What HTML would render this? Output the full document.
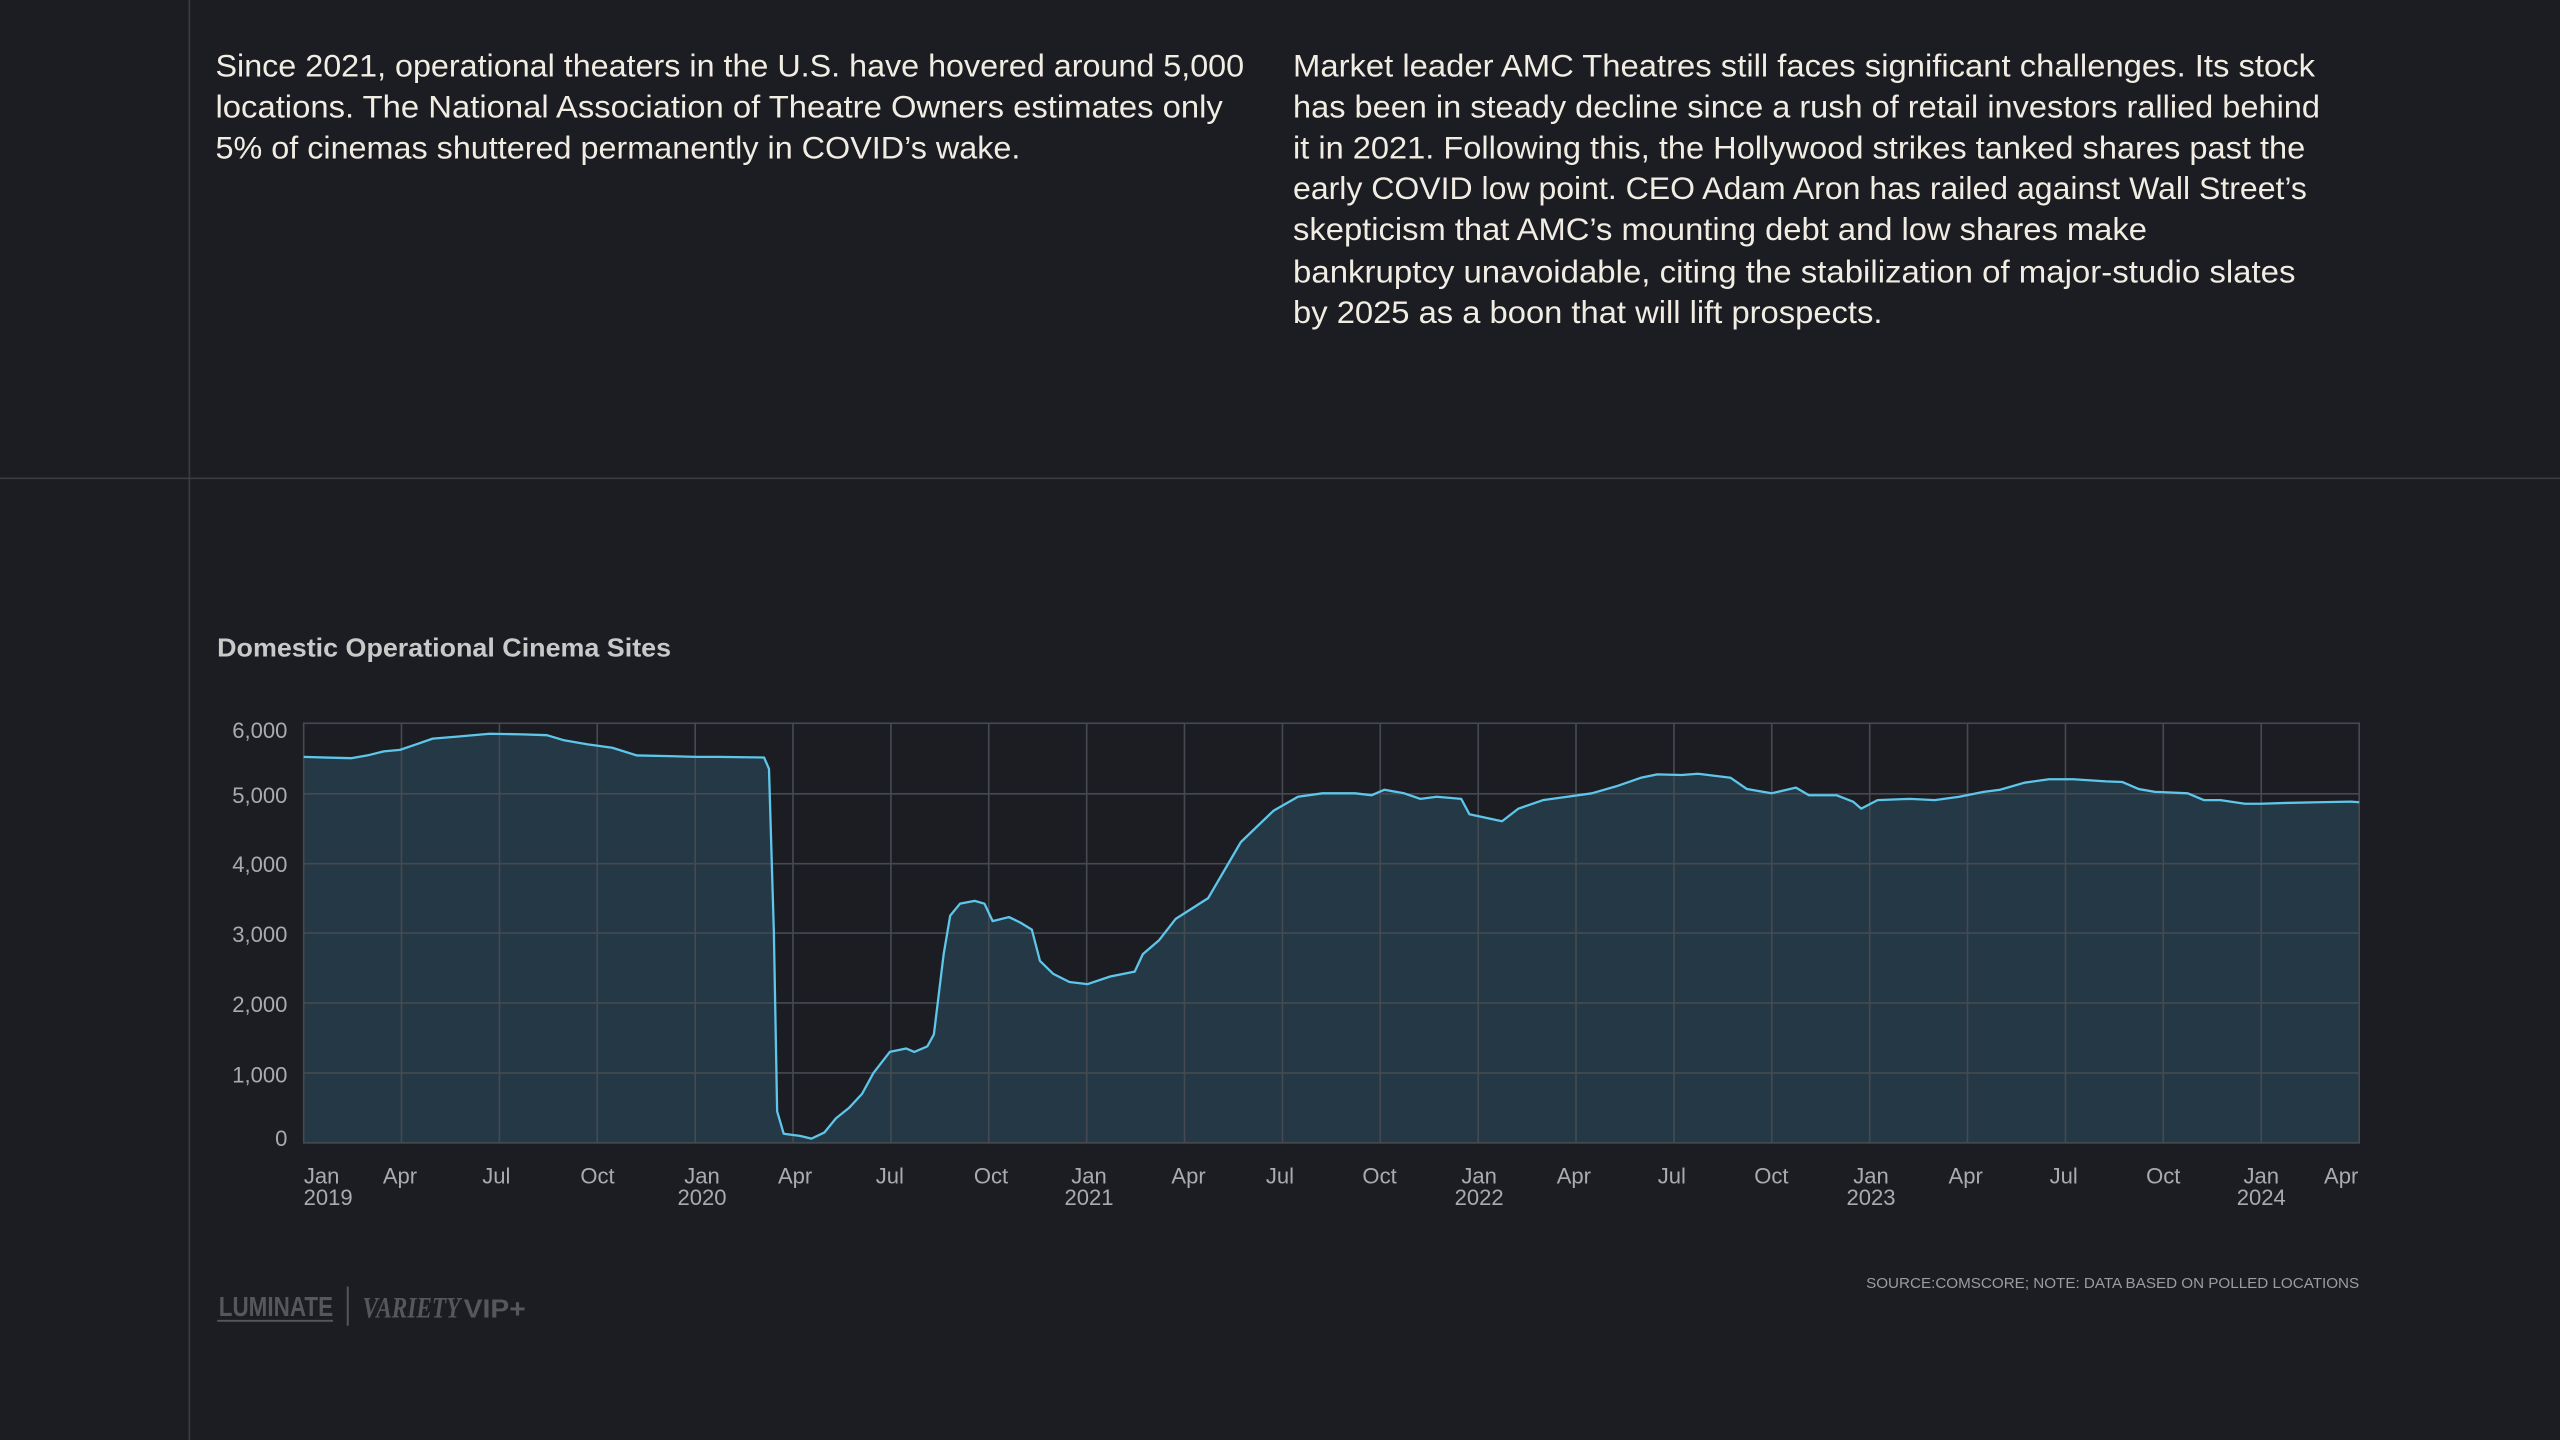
<!DOCTYPE html>
<html><head><meta charset="utf-8"><style>
html,body{margin:0;padding:0;background:#1c1d22;}
svg{display:block}
</style></head><body>
<svg width="2560" height="1440" viewBox="0 0 1568 882" xmlns="http://www.w3.org/2000/svg">
<rect width="1568" height="882" fill="#1c1d22"/>
<line x1="116" y1="0" x2="116" y2="882" stroke="#3a3c42" stroke-width="1"/>
<line x1="0" y1="293" x2="1568" y2="293" stroke="#3a3c42" stroke-width="1"/>
<g font-family="Liberation Sans, sans-serif" font-size="19.5" fill="#f1ede3" lengthAdjust="spacingAndGlyphs">
<text x="132" y="47" textLength="630" lengthAdjust="spacingAndGlyphs">Since 2021, operational theaters in the U.S. have hovered around 5,000</text>
<text x="132" y="72" textLength="617" lengthAdjust="spacingAndGlyphs">locations. The National Association of Theatre Owners estimates only</text>
<text x="132" y="97" textLength="493" lengthAdjust="spacingAndGlyphs">5% of cinemas shuttered permanently in COVID’s wake.</text>
<text x="792" y="47" textLength="626" lengthAdjust="spacingAndGlyphs">Market leader AMC Theatres still faces significant challenges. Its stock</text>
<text x="792" y="72" textLength="629" lengthAdjust="spacingAndGlyphs">has been in steady decline since a rush of retail investors rallied behind</text>
<text x="792" y="97" textLength="620" lengthAdjust="spacingAndGlyphs">it in 2021. Following this, the Hollywood strikes tanked shares past the</text>
<text x="792" y="122" textLength="621" lengthAdjust="spacingAndGlyphs">early COVID low point. CEO Adam Aron has railed against Wall Street’s</text>
<text x="792" y="147" textLength="523" lengthAdjust="spacingAndGlyphs">skepticism that AMC’s mounting debt and low shares make</text>
<text x="792" y="173" textLength="614" lengthAdjust="spacingAndGlyphs">bankruptcy unavoidable, citing the stabilization of major-studio slates</text>
<text x="792" y="198" textLength="361" lengthAdjust="spacingAndGlyphs">by 2025 as a boon that will lift prospects.</text>
</g>
<text x="133" y="402" font-family="Liberation Sans, sans-serif" font-weight="bold" font-size="16" fill="#c9c9c9" textLength="278" lengthAdjust="spacingAndGlyphs">Domestic Operational Cinema Sites</text>

<!-- area -->
<polygon fill="#243845" points="186,700 186,463.6 200,464 215,464.4 225,462.7 235,460.2 245,459.3 255,455.9 265,452.4 280,451.2 300,449.4 320,449.8 335,450.3 345,453.3 360,455.9 375,458 390,462.7 410,463.1 426,463.6 440,463.6 468,464 471,470.9 474,571.5 476,680.7 480,694.4 490,695.7 497,697.4 505,693.6 512,685 520,678.6 528,670 535,657.2 545,644.3 555,642.2 560,644.3 568,640.9 572,633.6 578,584.4 582,560.8 588,553.5 597,551.8 603,553.5 608,564.2 618,561.7 625,565.1 632,569.4 637,588.6 645,596.4 655,601.5 666,602.8 680,598.1 695,595.1 700,584.4 710,575.8 720,562.9 740,550.1 760,515.8 780,496.6 795,488 810,485.9 830,485.9 840,487.1 848,483.7 860,485.9 870,489.3 880,488 895,489.3 900,498.7 920,503 930,495.3 945,490.1 960,488 975,485.9 990,481.6 1005,476.4 1015,474.3 1030,474.7 1040,473.9 1060,476.4 1070,483.3 1085,485.9 1100,482.4 1108,487.1 1125,487.1 1135,491 1140,495.3 1150,490.1 1170,489.3 1185,490.1 1200,488 1215,485 1225,483.7 1240,479.4 1255,477.3 1270,477.3 1290,478.6 1300,479 1310,483.3 1320,485 1340,485.9 1350,490.1 1360,490.1 1375,492.3 1385,492.3 1400,491.8 1420,491.4 1440,491 1445,491.4 1445,700"/>

<!-- grid -->
<g stroke="#454a51" stroke-width="1" fill="none">
<rect x="186" y="443" width="1259" height="257"/>
<line x1="186" y1="486.2" x2="1445" y2="486.2"/>
<line x1="186" y1="529" x2="1445" y2="529"/>
<line x1="186" y1="571.5" x2="1445" y2="571.5"/>
<line x1="186" y1="614.3" x2="1445" y2="614.3"/>
<line x1="186" y1="657.2" x2="1445" y2="657.2"/>
<line x1="245.9" y1="443" x2="245.9" y2="700"/>
<line x1="305.9" y1="443" x2="305.9" y2="700"/>
<line x1="365.8" y1="443" x2="365.8" y2="700"/>
<line x1="425.8" y1="443" x2="425.8" y2="700"/>
<line x1="485.7" y1="443" x2="485.7" y2="700"/>
<line x1="545.7" y1="443" x2="545.7" y2="700"/>
<line x1="605.6" y1="443" x2="605.6" y2="700"/>
<line x1="665.6" y1="443" x2="665.6" y2="700"/>
<line x1="725.5" y1="443" x2="725.5" y2="700"/>
<line x1="785.5" y1="443" x2="785.5" y2="700"/>
<line x1="845.4" y1="443" x2="845.4" y2="700"/>
<line x1="905.4" y1="443" x2="905.4" y2="700"/>
<line x1="965.3" y1="443" x2="965.3" y2="700"/>
<line x1="1025.3" y1="443" x2="1025.3" y2="700"/>
<line x1="1085.2" y1="443" x2="1085.2" y2="700"/>
<line x1="1145.2" y1="443" x2="1145.2" y2="700"/>
<line x1="1205.1" y1="443" x2="1205.1" y2="700"/>
<line x1="1265.1" y1="443" x2="1265.1" y2="700"/>
<line x1="1325" y1="443" x2="1325" y2="700"/>
<line x1="1385" y1="443" x2="1385" y2="700"/>
</g>

<polyline fill="none" stroke="#5ec6ea" stroke-width="1.4" stroke-linejoin="round" points="186,463.6 200,464 215,464.4 225,462.7 235,460.2 245,459.3 255,455.9 265,452.4 280,451.2 300,449.4 320,449.8 335,450.3 345,453.3 360,455.9 375,458 390,462.7 410,463.1 426,463.6 440,463.6 468,464 471,470.9 474,571.5 476,680.7 480,694.4 490,695.7 497,697.4 505,693.6 512,685 520,678.6 528,670 535,657.2 545,644.3 555,642.2 560,644.3 568,640.9 572,633.6 578,584.4 582,560.8 588,553.5 597,551.8 603,553.5 608,564.2 618,561.7 625,565.1 632,569.4 637,588.6 645,596.4 655,601.5 666,602.8 680,598.1 695,595.1 700,584.4 710,575.8 720,562.9 740,550.1 760,515.8 780,496.6 795,488 810,485.9 830,485.9 840,487.1 848,483.7 860,485.9 870,489.3 880,488 895,489.3 900,498.7 920,503 930,495.3 945,490.1 960,488 975,485.9 990,481.6 1005,476.4 1015,474.3 1030,474.7 1040,473.9 1060,476.4 1070,483.3 1085,485.9 1100,482.4 1108,487.1 1125,487.1 1135,491 1140,495.3 1150,490.1 1170,489.3 1185,490.1 1200,488 1215,485 1225,483.7 1240,479.4 1255,477.3 1270,477.3 1290,478.6 1300,479 1310,483.3 1320,485 1340,485.9 1350,490.1 1360,490.1 1375,492.3 1385,492.3 1400,491.8 1420,491.4 1440,491 1445,491.4"/>

<g font-family="Liberation Sans, sans-serif" font-size="13.5" fill="#a9abae" text-anchor="end">
<text x="176" y="452">6,000</text>
<text x="176" y="492">5,000</text>
<text x="176" y="534">4,000</text>
<text x="176" y="577">3,000</text>
<text x="176" y="620">2,000</text>
<text x="176" y="663">1,000</text>
<text x="176" y="702">0</text>
</g>
<g font-family="Liberation Sans, sans-serif" font-size="13.5" fill="#a9abae" text-anchor="middle">
<text x="197" y="725">Jan</text><text x="201" y="738">2019</text>
<text x="245" y="725">Apr</text>
<text x="304" y="725">Jul</text>
<text x="366" y="725">Oct</text>
<text x="430" y="725">Jan</text><text x="430" y="738">2020</text>
<text x="487" y="725">Apr</text>
<text x="545" y="725">Jul</text>
<text x="607" y="725">Oct</text>
<text x="667" y="725">Jan</text><text x="667" y="738">2021</text>
<text x="728" y="725">Apr</text>
<text x="784" y="725">Jul</text>
<text x="845" y="725">Oct</text>
<text x="906" y="725">Jan</text><text x="906" y="738">2022</text>
<text x="964" y="725">Apr</text>
<text x="1024" y="725">Jul</text>
<text x="1085" y="725">Oct</text>
<text x="1146" y="725">Jan</text><text x="1146" y="738">2023</text>
<text x="1204" y="725">Apr</text>
<text x="1264" y="725">Jul</text>
<text x="1325" y="725">Oct</text>
<text x="1385" y="725">Jan</text><text x="1385" y="738">2024</text>
<text x="1434" y="725">Apr</text>
</g>
<text x="1445" y="789" text-anchor="end" font-family="Liberation Sans, sans-serif" font-size="9" fill="#9a9ca0" textLength="302" lengthAdjust="spacingAndGlyphs">SOURCE:COMSCORE; NOTE: DATA BASED ON POLLED LOCATIONS</text>

<text x="134" y="806" font-family="Liberation Sans, sans-serif" font-weight="bold" font-size="17" fill="#55575c" textLength="70" lengthAdjust="spacingAndGlyphs">LUMINATE</text>
<line x1="133" y1="809" x2="204" y2="809" stroke="#55575c" stroke-width="1.2"/>
<line x1="213" y1="788" x2="213" y2="812" stroke="#55575c" stroke-width="1.2"/>
<text x="222" y="807" font-family="Liberation Serif, serif" font-weight="bold" font-style="italic" font-size="18" fill="#55575c" textLength="60" lengthAdjust="spacingAndGlyphs">VARIETY</text>
<text x="284" y="807" font-family="Liberation Sans, sans-serif" font-weight="bold" font-size="16" fill="#55575c" textLength="38" lengthAdjust="spacingAndGlyphs">VIP+</text>
</svg>
</body></html>
